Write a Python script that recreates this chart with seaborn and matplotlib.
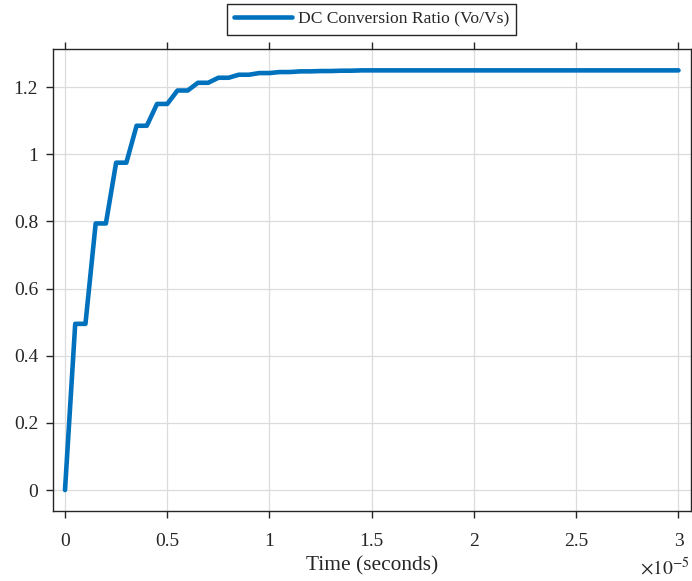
import matplotlib
matplotlib.use("Agg")
import matplotlib.pyplot as plt
import seaborn as sns
import pandas as pd
from matplotlib.ticker import FuncFormatter, MultipleLocator

# Time (in units of 1e-5 s) and DC conversion ratio
time_e5 = [0.00, 0.05, 0.10, 0.15, 0.20, 0.25, 0.30, 0.35, 0.40, 0.45,
           0.50, 0.55, 0.60, 0.65, 0.70, 0.75, 0.80, 0.85, 0.90, 0.95,
           1.00, 1.05, 1.10, 1.15, 1.20, 1.25, 1.30, 1.35, 1.40, 1.45, 3.00]
ratio = [0.000, 0.495, 0.495, 0.794, 0.794, 0.975, 0.975, 1.085, 1.085, 1.150,
         1.150, 1.190, 1.190, 1.213, 1.213, 1.228, 1.228, 1.237, 1.237, 1.242,
         1.242, 1.245, 1.245, 1.247, 1.247, 1.248, 1.248, 1.249, 1.249, 1.250, 1.250]
series_label = "DC Conversion Ratio (Vo/Vs)"
x_label = "Time (seconds)"

df = pd.DataFrame({"t": [v * 1e-5 for v in time_e5], "r": ratio})

sns.set_theme(style="white")
plt.rcParams["font.family"] = ["Liberation Serif", "DejaVu Serif"]
plt.rcParams["mathtext.fontset"] = "stix"

fig = plt.figure(figsize=(6.92, 5.81), dpi=100)
ax = fig.add_axes([0.0762, 0.1205, 0.9220, 0.7945])

sns.lineplot(data=df, x="t", y="r", sort=False, estimator=None, ax=ax,
             color="#0072BD", linewidth=3.3, label=series_label)

ax.set_xlim(-0.06e-5, 3.06e-5)
ax.set_ylim(-0.0625, 1.3125)
ax.xaxis.set_major_locator(MultipleLocator(0.5e-5))
ax.yaxis.set_major_locator(MultipleLocator(0.2))
ax.xaxis.set_major_formatter(FuncFormatter(lambda v, p: f"{round(v * 1e5, 6):g}"))
ax.yaxis.set_major_formatter(FuncFormatter(lambda v, p: f"{round(v, 6):g}"))

ax.grid(True, color="#dcdcdc", linewidth=0.9)
for s in ax.spines.values():
    s.set_visible(True)
    s.set_color("#262626")
    s.set_linewidth(1.0)
ax.tick_params(axis="both", which="major", direction="out", length=5, width=1.0,
               color="#262626", labelsize=14, labelcolor="#262626",
               top=True, right=True, bottom=True, left=True)
ax.tick_params(axis="x", pad=11)
ax.tick_params(axis="y", pad=5.5)

ax.set_xlabel(x_label, fontsize=15.4, color="#262626", labelpad=4)
ax.set_ylabel("")

fig.text(690 / 692, 1 - 575 / 581, r"$\times 10^{-5}$",
         ha="right", va="baseline", fontsize=14, color="#262626")

leg = ax.legend(loc="lower center", bbox_to_anchor=(0.5, 1.032), borderaxespad=0,
                fontsize=12.6, frameon=True, fancybox=False, framealpha=1,
                edgecolor="#262626", handlelength=3.3, handletextpad=0.35,
                borderpad=0.4)
leg.get_frame().set_linewidth(1.0)

fig.savefig("out.png", dpi=100)
